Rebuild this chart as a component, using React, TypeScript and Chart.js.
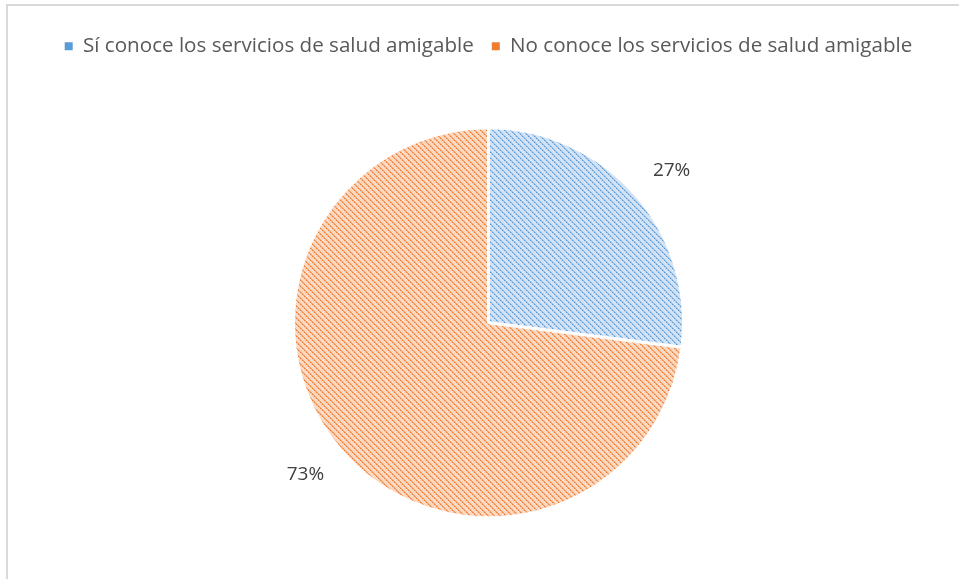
import React, { useEffect, useRef } from "react";
import { Chart, registerables } from "chart.js";

Chart.register(...registerables);

const categories: string[] = [
  "Sí conoce los servicios de salud amigable",
  "No conoce los servicios de salud amigable",
];
const values: number[] = [27, 73];
const valueLabels: string[] = ["27%", "73%"];
const baseColors: string[] = ["#5B9BD5", "#ED7D31"];
const lightColors: string[] = ["#d3e3f5", "#fbd8c2"];
const midColors: string[] = ["#9dc2e8", "#f3a878"];

function makePattern(light: string, mid: string, dark: string): CanvasPattern | string {
  const c = document.createElement("canvas");
  const s = 6;
  c.width = s;
  c.height = s;
  const g = c.getContext("2d");
  if (!g) return dark;
  g.fillStyle = light;
  g.fillRect(0, 0, s, s);
  for (let i = 0; i < s; i++) {
    g.fillStyle = mid;
    g.fillRect(i, i, 1, 1);
    g.fillRect((i + 1) % s, i, 1, 1);
    if (i % 2 === 0) {
      g.fillStyle = dark;
      g.fillRect(i, i, 1, 1);
    }
  }
  const p = g.createPattern(c, "repeat");
  return p || dark;
}

const outsideLabels = {
  id: "outsideLabels",
  afterDatasetsDraw(chart: any) {
    const ctx = chart.ctx;
    const meta = chart.getDatasetMeta(0);
    ctx.save();
    ctx.fillStyle = "#404040";
    ctx.font = "19px 'Open Sans', sans-serif";
    ctx.textAlign = "center";
    ctx.textBaseline = "middle";
    meta.data.forEach((arc: any, i: number) => {
      const mid = (arc.startAngle + arc.endAngle) / 2;
      const r = arc.outerRadius + 42;
      const x = arc.x + Math.cos(mid) * r * 1.03;
      const y = arc.y + Math.sin(mid) * r * 0.97;
      ctx.fillText(valueLabels[i], x, y);
    });
    ctx.restore();
  },
};

export default function App() {
  const ref = useRef<HTMLCanvasElement | null>(null);
  useEffect(() => {
    document.body.style.margin = "0";
    const canvas = ref.current;
    if (!canvas) return;
    const patterns = values.map((_, i) => makePattern(lightColors[i], midColors[i], baseColors[i]));
    const chart = new Chart(canvas, {
      type: "pie",
      data: {
        labels: categories,
        datasets: [
          {
            data: values,
            backgroundColor: patterns as any,
            borderColor: "#ffffff",
            borderWidth: 3,
            radius: 195,
          } as any,
        ],
      },
      options: {
        animation: false,
        responsive: false,
        maintainAspectRatio: false,
        layout: { padding: { top: 12, bottom: 0, left: 10, right: 0 } },
        plugins: {
          tooltip: { enabled: false },
          legend: {
            position: "top",
            labels: {
              boxWidth: 8,
              boxHeight: 8,
              padding: 18,
              color: "#595959",
              font: { size: 20.6, family: "'Open Sans', sans-serif" },
              generateLabels: () =>
                categories.map((t, i) => ({
                  text: t,
                  fillStyle: baseColors[i],
                  strokeStyle: baseColors[i],
                  fontColor: "#595959",
                  lineWidth: 0,
                  hidden: false,
                  index: i,
                  datasetIndex: 0,
                })),
            },
          },
        },
      },
      plugins: [outsideLabels],
    });
    return () => chart.destroy();
  }, []);
  return (
    <div
      style={{
        position: "absolute",
        left: 6,
        top: 4,
        width: 953,
        height: 575,
        borderLeft: "2px solid #d9d9d9",
        borderTop: "2px solid #d9d9d9",
        background: "#fff",
      }}
    >
      <canvas ref={ref} width={951} height={573} style={{ display: "block" }} />
    </div>
  );
}
